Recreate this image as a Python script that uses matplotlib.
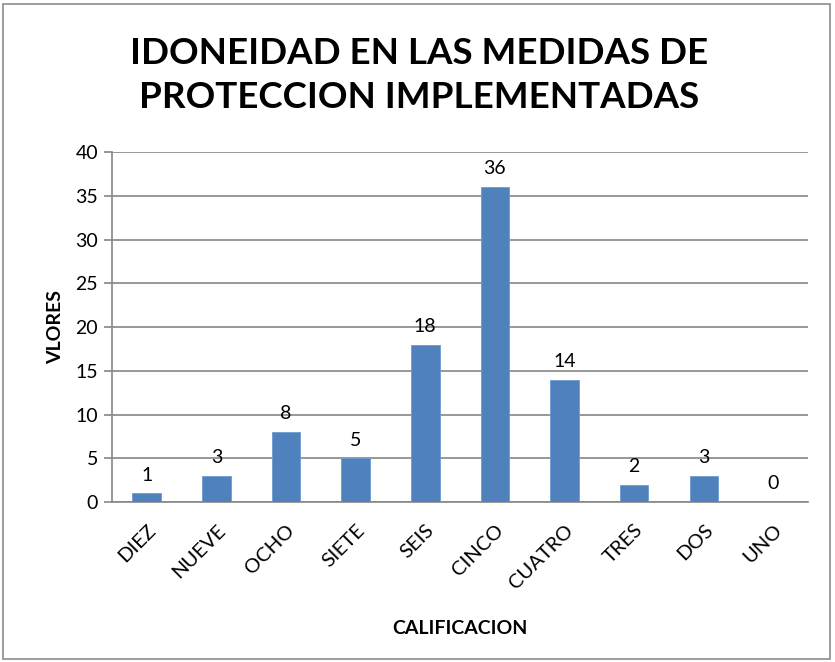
import matplotlib.pyplot as plt
from matplotlib.patches import Rectangle

categorias = ["DIEZ", "NUEVE", "OCHO", "SIETE", "SEIS", "CINCO", "CUATRO", "TRES", "DOS", "UNO"]
valores = [1, 3, 8, 5, 18, 36, 14, 2, 3, 0]

plt.rcParams['font.family'] = ['Lato', 'DejaVu Sans']

fig = plt.figure(figsize=(8.35, 6.62), dpi=100)
ax = fig.add_axes([0.134, 0.2417, 0.834, 0.5285])

# borde del grafico
fig.patches.append(Rectangle((0.004, 0.004), 0.99, 0.99, transform=fig.transFigure,
                             fill=False, edgecolor='#8c8c8c', linewidth=1.2))

x = range(len(categorias))
ax.bar(x, valores, width=0.41, color='#4f81bd', edgecolor='#6f9ad0', linewidth=0.6, zorder=3)

for i, v in zip(x, valores):
    ax.text(i, v + 1.1, str(v), ha='center', va='bottom', fontsize=14)

ax.set_xlim(-0.5, len(categorias) - 0.5)
ax.set_ylim(0, 40)
ax.set_yticks(range(0, 41, 5))
ax.set_xticks(list(x))
ax.set_xticklabels(categorias, rotation=45, ha='right', rotation_mode='anchor', fontsize=14.5)
ax.tick_params(axis='y', labelsize=14, length=6, color='#868686', width=1.2, pad=4)
ax.tick_params(axis='x', length=0, pad=14)
ax.grid(axis='y', color='#868686', linewidth=1.2, zorder=0)

for s in ['top', 'right']:
    ax.spines[s].set_visible(False)
ax.spines['left'].set_color('#868686')
ax.spines['bottom'].set_color('#868686')
ax.spines['left'].set_linewidth(1.2)
ax.spines['bottom'].set_linewidth(1.2)

ax.set_ylabel('VLORES', fontsize=14, fontweight='bold', labelpad=8)
ax.set_xlabel('CALIFICACION', fontsize=14, fontweight='bold', labelpad=20)

fig.text(0.502, 0.886, 'IDONEIDAD EN LAS MEDIDAS DE\nPROTECCION IMPLEMENTADAS', ha='center', va='center',
         fontsize=26.5, fontweight='bold', linespacing=1.42)

fig.savefig('out.png', dpi=100)
